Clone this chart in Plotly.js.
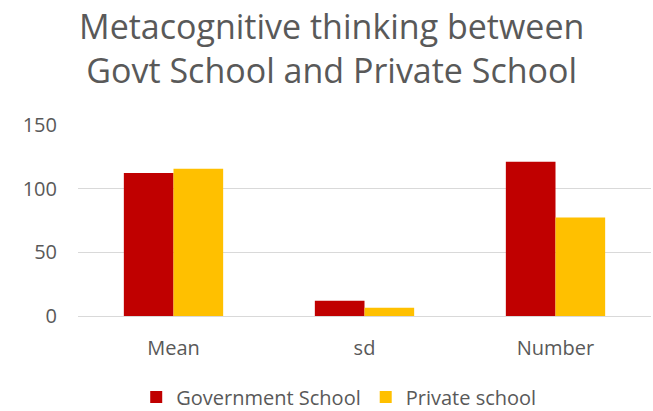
<!DOCTYPE html>
<html>
<head>
<meta charset="utf-8">
<script src="https://cdn.plot.ly/plotly-3.0.1.min.js"></script>
<style>html,body{margin:0;padding:0;background:#fff;}#chart{width:653px;height:411px;}</style>
</head>
<body>
<div id="chart"></div>
<script>
var categories = ["Mean", "sd", "Number"];
var govtValues = [112.3, 12.0, 121.1];
var privateValues = [115.6, 6.5, 77.3];
var seriesNames = ["Government School", "Private school"];
var tickValues = [0, 50, 100, 150];

var fontFam = "Open Sans, Liberation Sans, sans-serif";
var data = [
  {type: "bar", name: seriesNames[0], x: categories, y: govtValues,
   marker: {color: "#C00000"}},
  {type: "bar", name: seriesNames[1], x: categories, y: privateValues,
   marker: {color: "#FFC000"}}
];
var layout = {
  width: 653, height: 411,
  margin: {l: 78, r: 2, t: 125, b: 95},
  paper_bgcolor: "#fff", plot_bgcolor: "#fff",
  barmode: "group", bargap: 0.48, bargroupgap: 0,
  title: {text: "Metacognitive thinking between<br>Govt School and Private School",
          x: 0.508, xanchor: "center", y: 0.905, yanchor: "middle",
          font: {family: fontFam, size: 34, color: "#595959"}},
  font: {family: fontFam, color: "#595959"},
  xaxis: {tickfont: {size: 20, color: "#595959"}, showline: false, ticks: "",
          zeroline: false, showgrid: false, ticklabelstandoff: 18, automargin: false},
  yaxis: {range: [0, 150], tickvals: tickValues, tickfont: {size: 20, color: "#595959"},
          gridcolor: "#D9D9D9", gridwidth: 1, zeroline: true, zerolinecolor: "#D9D9D9",
          zerolinewidth: 1, showline: false, ticks: "", ticklabelstandoff: 20, automargin: false},
  legend: {orientation: "h", x: 0.455, xanchor: "center", xref: "paper",
           y: 1 - 397 / 411, yanchor: "middle", yref: "container",
           font: {size: 20, color: "#595959"}, traceorder: "normal"},
  showlegend: true
};
Plotly.newPlot("chart", data, layout, {displayModeBar: false, staticPlot: true});
</script>
</body>
</html>
